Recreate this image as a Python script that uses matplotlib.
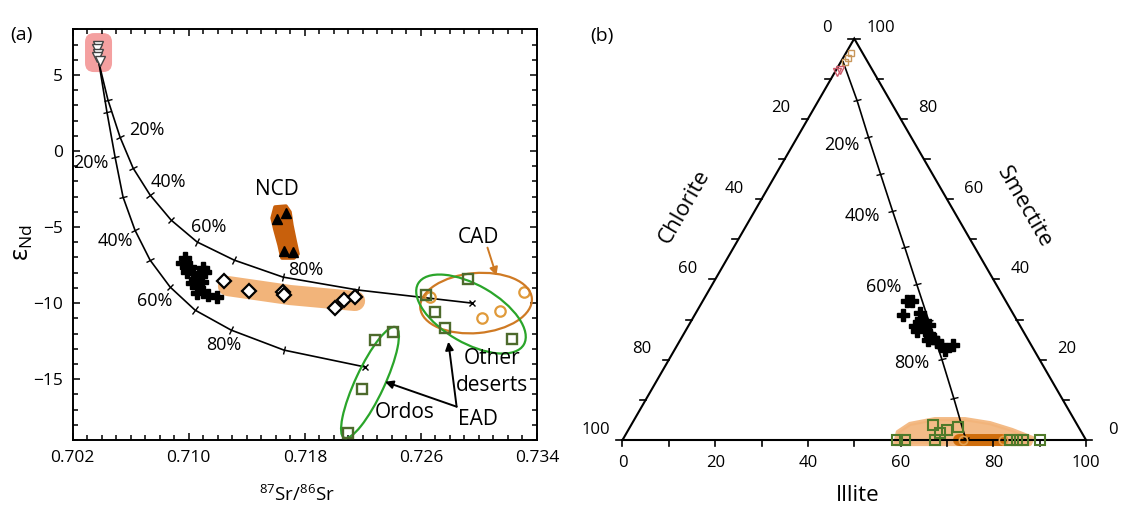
import numpy as np
import matplotlib
matplotlib.use('Agg')
import matplotlib.pyplot as plt
from matplotlib.markers import MarkerStyle
from matplotlib.patches import Ellipse, FancyBboxPatch, Polygon
from matplotlib.transforms import Affine2D, ScaledTranslation
from matplotlib.ticker import MultipleLocator, FixedLocator

plt.rcParams['font.family'] = ['Open Sans', 'DejaVu Sans']
plt.rcParams['mathtext.fontset'] = 'custom'
plt.rcParams['mathtext.rm'] = 'Open Sans'
plt.rcParams['mathtext.it'] = 'Open Sans:italic'

# ---------------- (a) Sr-Nd isotopes ----------------
# mixing curves, one point per 10 % step
upper_sr = [0.70381, 0.70443, 0.70526, 0.70616, 0.70733, 0.70878, 0.71057,
            0.71312, 0.71649, 0.72166, 0.72952]
upper_nd = [5.78, 3.35, 0.92, -1.12, -2.89, -4.54, -5.98, -7.17, -8.29, -9.14, -10.0]
lower_sr = [0.70381, 0.70436, 0.70492, 0.70547, 0.70629, 0.70733, 0.70871,
            0.71043, 0.71291, 0.71656, 0.72215]
lower_nd = [5.78, 2.56, -0.40, -3.03, -5.20, -7.17, -8.94, -10.46, -11.77, -13.09, -14.20]

# volcanic end member (open down triangles)
volc_sr = [0.70374, 0.70367, 0.70374, 0.70367, 0.70388]
volc_nd = [6.9, 6.7, 6.4, 6.2, 5.9]

# loess / sediment samples (pluses)
plus_sr = [0.70974, 0.70953, 0.71008, 0.71098, 0.70988, 0.71029, 0.71077, 0.71112,
           0.71043, 0.71091, 0.71022, 0.71064, 0.71098, 0.71057, 0.71132, 0.71195]
plus_nd = [-7.04, -7.37, -7.63, -7.69, -7.96, -8.02, -8.15, -7.96,
           -8.48, -8.61, -8.68, -8.94, -9.27, -9.34, -9.47, -9.60]

# diamonds
dia_sr = [0.71243, 0.71415, 0.71649, 0.71656, 0.72008, 0.72070, 0.72146]
dia_nd = [-8.55, -9.21, -9.27, -9.47, -10.32, -9.80, -9.60]
dia_band_sr = [0.71270, 0.71698, 0.72146]
dia_band_nd = [-8.88, -9.47, -9.86]

# NCD (triangles)
ncd_sr = [0.71670, 0.71606, 0.71656, 0.71720]
ncd_nd = [-4.05, -4.49, -6.58, -6.67]
ncd_blob_sr = [0.71594, 0.71670, 0.71698, 0.71711, 0.71732, 0.71753,
               0.71725, 0.71642, 0.71622, 0.71594, 0.71574]
ncd_blob_nd = [-3.68, -3.62, -4.01, -4.87, -5.85, -6.77,
               -7.04, -7.04, -6.18, -5.20, -4.41]

# CAD (circles)
cad_sr = [0.72662, 0.73021, 0.73145, 0.73310]
cad_nd = [-9.60, -10.98, -10.52, -9.27]

# EAD (squares)
ead_sr = [0.72635, 0.72697, 0.72766, 0.72924, 0.73228, 0.72283, 0.72407, 0.72194, 0.72097]
ead_nd = [-9.47, -10.59, -11.64, -8.42, -12.36, -12.43, -11.90, -15.65, -18.54]

# ---------------- (b) clay mineral ternary ----------------
tern_ticks = [0, 10, 20, 30, 40, 50, 60, 70, 80, 90, 100]
tern_labels = [0, 20, 40, 60, 80, 100]

mix_illite = [0.5, 8.3, 15.3, 22.5, 29.7, 36.9, 44.0, 51.3, 58.7, 66.2, 74.1]
mix_smectite = [94.2, 84.6, 75.5, 66.3, 57.1, 48.0, 38.9, 29.6, 20.3, 10.5, 0.0]

b_plus_illite = [44.0, 45.2, 45.0, 48.3, 49.3, 48.9, 50.2, 51.7, 50.0, 51.6, 53.3,
                 54.4, 55.7, 53.5, 56.8, 59.5, 58.5]
b_plus_smectite = [34.7, 34.7, 31.1, 31.6, 30.1, 28.4, 29.5, 28.7, 27.2, 27.4, 26.2,
                   25.3, 24.5, 24.9, 23.7, 23.7, 22.3]

b_top_sq_illite = [1.1, 1.0, 0.9]
b_top_sq_smectite = [96.3, 95.1, 94.2]
b_top_tri_illite = [0.8, 0.5]
b_top_tri_smectite = [92.2, 91.6]

b_sq_illite = [59.2, 61.0, 65.1, 67.4, 67.6, 68.8, 70.8, 83.6, 85.1, 86.4, 90.1]
b_sq_smectite = [0, 0, 3.7, 0, 1.7, 2.5, 3.2, 0, 0, 0, 0]
b_cad_illite = [73.5, 82.2]
b_cad_smectite = [0, 0]
b_cad_bar_illite = [72.6, 81.9]
b_cad_bar_smectite = [0, 0]
b_band_illite = [59.3, 58.4, 60.0, 64.8, 71.3, 77.2, 82.8, 88.2, 88.4]
b_band_smectite = [-1.0, 2.0, 4.0, 5.2, 5.2, 4.2, 2.5, 0.5, -1.0]

SAND = '#f2b47a'
DARK_ORANGE = '#c8600c'
GREEN = '#2aa52a'
OLIVE = '#4d6a2c'
CAD_COL = '#cf7a24'

fig = plt.figure(figsize=(11.21, 5.08), dpi=100)
W, H = 1121, 508


def px_transform(ax, x, y):
    return fig.dpi_scale_trans + ScaledTranslation(x, y, ax.transData)


def draw_mixing(ax, xs, ys):
    ax.plot(xs, ys, color='k', lw=1.2, zorder=2, clip_on=False)
    pts = ax.transData.transform(np.column_stack([xs, ys]))
    for k in range(1, len(xs) - 1):
        d = pts[k + 1] - pts[k - 1]
        ang = np.degrees(np.arctan2(d[1], d[0]))
        m = MarkerStyle('|', transform=Affine2D().rotate_deg(ang))
        ax.plot(xs[k], ys[k], marker=m, ms=6.5, mew=1.0, color='k', zorder=2, clip_on=False)
    ax.plot(xs[-1], ys[-1], marker='x', ms=4, mew=1.0, color='k', zorder=2)


# ---------------- panel (a) ----------------
ax1 = fig.add_axes([72.7 / W, (H - 440) / H, (537 - 72.7) / W, (440 - 29.3) / H])
ax1.set_xlim(0.702, 0.734)
ax1.set_ylim(-19, 8)
ax1.set_autoscale_on(False)
ax1.xaxis.set_major_locator(FixedLocator([0.702, 0.710, 0.718, 0.726, 0.734]))
ax1.xaxis.set_major_formatter(plt.FuncFormatter(lambda v, p: f'{v:.3f}'))
ax1.xaxis.set_minor_locator(MultipleLocator(0.001))
ax1.yaxis.set_major_locator(FixedLocator([-15, -10, -5, 0, 5]))
ax1.yaxis.set_minor_locator(MultipleLocator(1))
ax1.tick_params(which='both', direction='in', top=True, right=True, labelsize=12.5, width=1.1)
ax1.tick_params(which='major', length=5, pad=7)
ax1.tick_params(which='minor', length=3.5)
for s in ax1.spines.values():
    s.set_linewidth(1.4)

ax1.set_xlabel(r'$^{87}$Sr/$^{86}$Sr', fontsize=13.5, va='center')
ax1.xaxis.set_label_coords(0.483, -0.135)
ax1.set_ylabel(r'$\mathrm{\varepsilon_{Nd}}$', fontsize=18, va='center')
ax1.yaxis.set_label_coords(-0.109, 0.48)

# highlighted end member box
box = FancyBboxPatch((-0.135, -0.195), 0.27, 0.39, boxstyle='round,pad=0,rounding_size=0.09',
                     transform=px_transform(ax1, 0.70378, 6.47), fc='#f4a0a0', ec='none', zorder=1)
ax1.add_patch(box)

ax1.plot(dia_band_sr, dia_band_nd, color=SAND, lw=14.5, solid_capstyle='round',
         solid_joinstyle='round', zorder=1)
ax1.add_patch(Polygon(np.column_stack([ncd_blob_sr, ncd_blob_nd]), closed=True, fc=DARK_ORANGE,
                      ec=DARK_ORANGE, lw=2.5, joinstyle='round', zorder=1))

draw_mixing(ax1, upper_sr, upper_nd)
draw_mixing(ax1, lower_sr, lower_nd)

ax1.plot(volc_sr, volc_nd, 'v', ms=6.5, mfc='white', mec='#444444', mew=1.0, ls='none', zorder=3)
ax1.plot(plus_sr, plus_nd, 'P', ms=8.5, color='k', ls='none', zorder=3)
ax1.plot(dia_sr, dia_nd, 'D', ms=7, mfc='white', mec='k', mew=1.6, ls='none', zorder=3)
ax1.plot(ncd_sr, ncd_nd, '^', ms=7, color='k', ls='none', zorder=3)
ax1.plot(cad_sr, cad_nd, 'o', ms=7.5, mfc='none', mec='#e09a3a', mew=1.6, ls='none', zorder=3)
ax1.plot(ead_sr, ead_nd, 's', ms=7.5, mfc='none', mec=OLIVE, mew=1.7, ls='none', zorder=4)

for cx, cy, w, h, ang, col in [(0.72980, -10.0, 1.12, 0.60, 5, CAD_COL),
                               (0.72945, -10.72, 1.22, 0.58, -30, GREEN),
                               (0.72249, -15.22, 1.22, 0.29, 65, GREEN)]:
    ax1.add_patch(Ellipse((0, 0), w, h, angle=ang, transform=px_transform(ax1, cx, cy),
                          fill=False, ec=col, lw=1.6, zorder=3))

pct_a = [(0.70710, 1.38, '20%'), (0.70324, -0.81, '20%'), (0.70859, -2.02, '40%'),
         (0.70492, -5.90, '40%'), (0.71135, -4.98, '60%'), (0.70767, -9.84, '60%'),
         (0.71808, -7.83, '80%'), (0.71243, -12.76, '80%')]
for x, y, t in pct_a:
    ax1.text(x, y, t, fontsize=13, ha='center', va='center', zorder=5)

ax1.text(0.71606, -2.52, 'NCD', fontsize=15, ha='center', va='center')
ax1.text(0.72995, -5.72, 'CAD', fontsize=15, ha='center', va='center')
ax1.text(0.73088, -13.63, 'Other', fontsize=15, ha='center', va='center')
ax1.text(0.73088, -15.39, 'deserts', fontsize=15, ha='center', va='center')
ax1.text(0.72490, -17.21, 'Ordos', fontsize=15, ha='center', va='center')
ax1.text(0.72995, -17.64, 'EAD', fontsize=15, ha='center', va='center')

ax1.annotate('', xy=(0.73126, -8.37), xytext=(0.73053, -6.18),
             arrowprops=dict(arrowstyle='-|>', color=CAD_COL, lw=1.4, mutation_scale=12))
for end in [(0.72352, -15.17), (0.72789, -12.54)]:
    ax1.annotate('', xy=end, xytext=(0.72846, -16.81),
                 arrowprops=dict(arrowstyle='-|>', color='k', lw=1.4, mutation_scale=12,
                                 shrinkA=0, shrinkB=0))

fig.text(21.7 / W, 1 - 35 / H, '(a)', fontsize=14, ha='center', va='center')

# ---------------- panel (b) ----------------
R3 = np.sqrt(3) / 2


def tern(illite, smectite):
    i = np.asarray(illite, float)
    s = np.asarray(smectite, float)
    return i + s / 2, s * R3


ax2 = fig.add_axes([622.5 / W, (H - 440) / H, 463.5 / W, 401.4 / H])
ax2.set_xlim(0, 100)
ax2.set_ylim(0, 100 * R3)
ax2.set_autoscale_on(False)
ax2.axis('off')

ax2.plot([0, 100, 50, 0], [0, 0, 100 * R3, 0], color='k', lw=1.5, clip_on=False,
         solid_joinstyle='miter', zorder=2)
tl = 1.3
for v in tern_ticks:
    ax2.plot([v, v], [0, -tl], color='k', lw=1.2, clip_on=False)
    lx, ly = tern(0, 100 - v)
    ax2.plot([lx, lx - tl], [ly, ly], color='k', lw=1.2, clip_on=False)
    rx, ry = tern(100 - v, v)
    ax2.plot([rx, rx + tl], [ry, ry], color='k', lw=1.2, clip_on=False)
for v in tern_labels:
    ax2.annotate(str(v), (v, 0), xytext=(0, -16.5), textcoords='offset points',
                 ha='center', va='center', fontsize=12)
    ax2.annotate(str(v), tern(0, 100 - v), xytext=(-19.5, 7.5), textcoords='offset points',
                 ha='center', va='center', fontsize=12)
    ax2.annotate(str(v), tern(100 - v, v), xytext=(19.5, 7.5), textcoords='offset points',
                 ha='center', va='center', fontsize=12)

ax2.text(13.3, 50.3, 'Chlorite', rotation=60, fontsize=16, ha='center', va='center')
ax2.text(86.6, 50.3, 'Smectite', rotation=-60, fontsize=16, ha='center', va='center')
ax2.text(50.8, -11.9, 'Illite', fontsize=16, ha='center', va='center')

bx, by = tern(b_band_illite, b_band_smectite)
ax2.add_patch(Polygon(np.column_stack([bx, by]), closed=True, fc=SAND, ec=SAND, lw=3,
                      joinstyle='round', alpha=0.9, zorder=1, clip_on=False))
cx_, cy_ = tern(b_cad_bar_illite, b_cad_bar_smectite)
ax2.plot(cx_, cy_, color='#d06e0c', lw=8.6, solid_capstyle='round', zorder=1.5, clip_on=False)

mx, my = tern(mix_illite, mix_smectite)
draw_mixing(ax2, mx, my)

pct_b = [(841.7, 144.6, '20%'), (862.5, 216, '40%'), (883.3, 286.7, '60%'), (911.7, 363.3, '80%')]
for px, py, t in pct_b:
    ax2.text((px - 622.5) / 4.635, (440 - py) / 4.635, t, fontsize=13, ha='center', va='center')

px_, py_ = tern(b_plus_illite, b_plus_smectite)
ax2.plot(px_, py_, 'P', ms=8.5, color='k', ls='none', zorder=3)
tx, ty = tern(b_top_sq_illite, b_top_sq_smectite)
ax2.plot(tx, ty, 's', ms=5, mfc='none', mec='#c8965a', mew=1.0, ls='none', zorder=3, clip_on=False)
tx, ty = tern(b_top_tri_illite, b_top_tri_smectite)
ax2.plot(tx, ty, 'v', ms=6, mfc='none', mec='#cc5a6a', mew=1.0, ls='none', zorder=3)
sx, sy = tern(b_sq_illite, b_sq_smectite)
ax2.plot(sx, sy, 's', ms=7.5, mfc='none', mec='#4f7a2a', mew=1.5, ls='none', zorder=4, clip_on=False)
ox, oy = tern(b_cad_illite, b_cad_smectite)
ax2.plot(ox, oy, 'o', ms=6, mfc='none', mec='#e3a050', mew=1.2, ls='none', zorder=3, clip_on=False)

fig.text(602 / W, 1 - 36 / H, '(b)', fontsize=14, ha='center', va='center')

fig.savefig('out.png', dpi=100)
